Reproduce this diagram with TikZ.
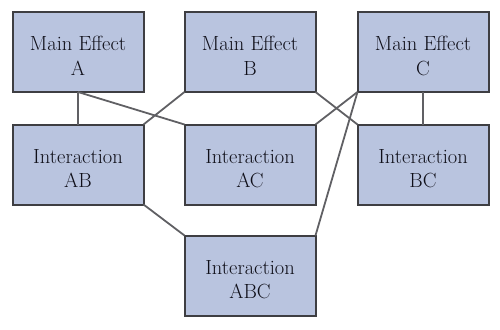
\documentclass[tikz,border=0pt]{standalone}
\usepackage{fontspec}
\begin{document}
\begin{tikzpicture}[x=1pt,y=-1pt,
  box/.style={draw=boxline, fill=boxfill, line width=2pt, minimum width=131pt, minimum height=80pt,
    inner sep=0pt, outer sep=0pt},
  lbl/.style={align=center, inner sep=0pt, font=\fontsize{20.5}{24.5}\selectfont, text=textcol},
  link/.style={draw=linkcol, line width=1.8pt}]
\definecolor{boxfill}{RGB}{185,196,223}
\definecolor{boxline}{RGB}{62,62,66}
\definecolor{linkcol}{RGB}{96,96,100}
\definecolor{textcol}{RGB}{15,15,25}
\useasboundingbox (0,0) rectangle (500,329);
\node[box] (A) at (78,52) {};
\node[box] (B) at (250,52) {};
\node[box] (C) at (423,52) {};
\node[box] (AB) at (78,164.5) {};
\node[box] (AC) at (250,164.5) {};
\node[box] (BC) at (423,164.5) {};
\node[box] (ABC) at (250,275.5) {};
\node[lbl] (tA) at ([yshift=-4pt]A.center) {Main Effect\\A};
\node[lbl] (tB) at ([yshift=-4pt]B.center) {Main Effect\\B};
\node[lbl] (tC) at ([yshift=-4pt]C.center) {Main Effect\\C};
\node[lbl] (tAB) at ([yshift=-4pt]AB.center) {Interaction\\AB};
\node[lbl] (tAC) at ([yshift=-4pt]AC.center) {Interaction\\AC};
\node[lbl] (tBC) at ([yshift=-4pt]BC.center) {Interaction\\BC};
\node[lbl] (tABC) at ([yshift=-4pt]ABC.center) {Interaction\\ABC};
\draw[link] (A.south) -- (AB.north);
\draw[link] (A.south) -- (AC.north west);
\draw[link] (B.south west) -- (AB.north east);
\draw[link] (B.south east) -- (BC.north west);
\draw[link] (C.south west) -- (AC.north east);
\draw[link] (C.south west) -- (ABC.north east);
\draw[link] (C.south) -- (BC.north);
\draw[link] (AB.south east) -- (ABC.north west);
\end{tikzpicture}
\end{document}
